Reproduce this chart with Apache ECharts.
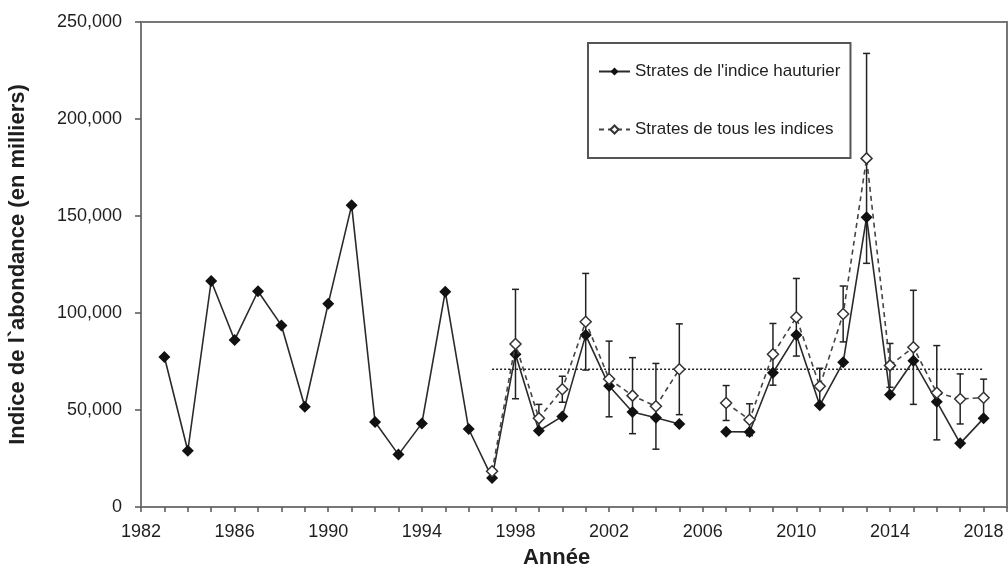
<!DOCTYPE html>
<html>
<head>
<meta charset="utf-8">
<script src="https://cdn.jsdelivr.net/npm/echarts@6/dist/echarts.min.js"></script>
<style>
  html, body { margin: 0; padding: 0; background: #fff; }
  #chart { width: 1008px; height: 569px; }
</style>
</head>
<body>
<div id="chart"></div>
<script>
// Years of the survey series
const years = [1983, 1984, 1985, 1986, 1987, 1988, 1989, 1990, 1991, 1992, 1993, 1994,
               1995, 1996, 1997, 1998, 1999, 2000, 2001, 2002, 2003, 2004, 2005, 2006,
               2007, 2008, 2009, 2010, 2011, 2012, 2013, 2014, 2015, 2016, 2017, 2018];

// Abundance index, offshore strata (thousands)
const hauturier = [77300, 29000, 116500, 86100, 111200, 93600, 51700, 104800, 155500, 43800, 27000, 43100,
                   111000, 40200, 15000, 78700, 39300, 46700, 88600, 62400, 49000, 46000, 42800, null,
                   38800, 38700, 69200, 88600, 52400, 74600, 149300, 57900, 75400, 54300, 32800, 45700];

// Abundance index, strata of all indices (thousands), from 1997
const tous = [null, null, null, null, null, null, null, null, null, null, null, null,
              null, null, 18400, 84000, 45700, 60700, 95500, 66000, 57400, 51900, 71000, null,
              53600, 45000, 78700, 97800, 62200, 99500, 179700, 73000, 82300, 58900, 55700, 56300];

// Half-width of the error bars on the all-indices series
const erreur = [null, null, null, null, null, null, null, null, null, null, null, null,
                null, null, 0, 28200, 7200, 6700, 24900, 19500, 19600, 22100, 23400, null,
                9000, 8200, 15900, 20000, 9300, 14400, 54100, 11300, 29400, 24300, 12900, 9600];

// Reference level and its span
const moyenne = 71000;
const moyenneSpan = [1997, 2018];

const nomHauturier = "Strates de l'indice hauturier";
const nomTous = "Strates de tous les indices";

const textColor = '#1e1e1e';
const fontFamily = '"Liberation Sans", Arial, sans-serif';

const serieHauturier = years.map((y, i) => [y, hauturier[i]]);
const serieTous = years.map((y, i) => [y, tous[i]]).filter((d, i) => i >= 14);
const barres = years
  .map((y, i) => [y, tous[i], erreur[i]])
  .filter(d => d[1] != null && d[2] != null && d[2] > 0)
  .map(d => [d[0], d[1] - d[2], d[1] + d[2]]);

const chart = echarts.init(document.getElementById('chart'), null, { renderer: 'canvas' });

chart.setOption({
  backgroundColor: '#fff',
  animation: false,
  textStyle: { fontFamily: fontFamily, color: textColor },
  grid: {
    left: 141, right: 1, top: 22, bottom: 62,
    containLabel: false,
    outerBoundsMode: 'none',
    show: true, borderColor: '#777', borderWidth: 2, backgroundColor: 'transparent'
  },
  legend: {
    data: [nomHauturier, nomTous],
    orient: 'vertical',
    left: 588, top: 43,
    padding: [20, 10, 20, 10],
    itemGap: 41,
    itemWidth: 31,
    itemHeight: 10,
    borderColor: '#555',
    borderWidth: 2,
    textStyle: { fontSize: 17, color: textColor, fontFamily: fontFamily }
  },
  xAxis: {
    type: 'value',
    min: 1982, max: 2019, interval: 1,
    name: 'Année',
    nameLocation: 'middle',
    nameGap: 40,
    nameTextStyle: { fontSize: 22, fontWeight: 'bold', color: textColor, padding: [0, 35, 0, 0] },
    axisLine: { lineStyle: { color: '#777', width: 2 } },
    axisTick: { show: true, length: 5, lineStyle: { color: '#555', width: 1.5 } },
    axisLabel: {
      fontSize: 18, color: textColor, margin: 16,
      formatter: v => ((v - 1982) % 4 === 0 && v <= 2018) ? String(v) : ''
    },
    splitLine: { show: false }
  },
  yAxis: {
    type: 'value',
    min: 0, max: 250000, interval: 50000,
    name: 'Indice de l`abondance (en milliers)',
    nameLocation: 'middle',
    nameGap: 112,
    nameTextStyle: { fontSize: 22, fontWeight: 'bold', color: textColor },
    axisLine: { show: true, lineStyle: { color: '#777', width: 2 } },
    axisTick: { show: true, length: 6, lineStyle: { color: '#555', width: 1.5 } },
    axisLabel: {
      fontSize: 18, color: textColor, margin: 19,
      formatter: v => v.toLocaleString('en-US')
    },
    splitLine: { show: false }
  },
  series: [
    {
      name: 'barres',
      type: 'custom',
      z: 1,
      data: barres,
      renderItem: function (params, api) {
        const x = api.value(0);
        const lo = api.coord([x, api.value(1)]);
        const hi = api.coord([x, api.value(2)]);
        const cap = 3.5;
        const style = { stroke: '#222', lineWidth: 1.5 };
        return {
          type: 'group',
          children: [
            { type: 'line', shape: { x1: lo[0], y1: lo[1], x2: hi[0], y2: hi[1] }, style: style },
            { type: 'line', shape: { x1: hi[0] - cap, y1: hi[1], x2: hi[0] + cap, y2: hi[1] }, style: style },
            { type: 'line', shape: { x1: lo[0] - cap, y1: lo[1], x2: lo[0] + cap, y2: lo[1] }, style: style }
          ]
        };
      }
    },
    {
      name: 'moyenne',
      type: 'line',
      z: 2,
      symbol: 'none',
      data: moyenneSpan.map(y => [y, moyenne]),
      lineStyle: { color: '#222', width: 1.5, type: [2, 2] },
      silent: true
    },
    {
      name: nomHauturier,
      type: 'line',
      z: 3,
      data: serieHauturier,
      connectNulls: false,
      symbol: 'diamond',
      symbolSize: 12,
      itemStyle: { color: '#111', borderColor: '#111', borderWidth: 0 },
      lineStyle: { color: '#2a2a2a', width: 1.6 }
    },
    {
      name: nomTous,
      type: 'line',
      z: 4,
      data: serieTous,
      connectNulls: false,
      symbol: 'diamond',
      symbolSize: 11,
      itemStyle: { color: '#fff', borderColor: '#333', borderWidth: 1.5 },
      lineStyle: { color: '#444', width: 1.6, type: [5, 4] }
    }
  ]
});
</script>
</body>
</html>
